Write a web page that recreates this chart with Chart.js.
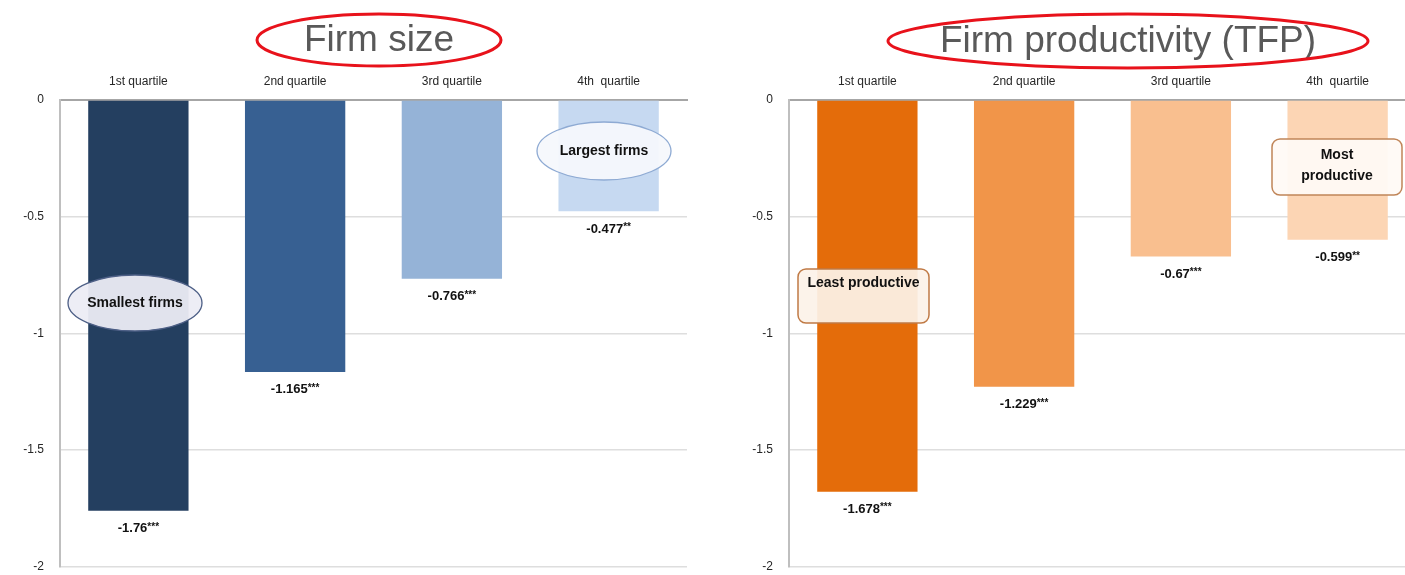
<!DOCTYPE html>
<html>
<head>
<meta charset="utf-8">
<script src="https://cdn.jsdelivr.net/npm/chart.js@4.4.1/dist/chart.umd.min.js"></script>
<style>
  html, body { margin: 0; padding: 0; width: 1405px; height: 575px; overflow: hidden; background: #fff; }
  .panel { position: absolute; top: 0; height: 575px; overflow: hidden; }
  #left { left: 0; width: 700px; }
  #right { left: 700px; width: 720px; }
</style>
</head>
<body>
<div class="panel" id="left"><canvas id="sizeChart" width="700" height="590"></canvas></div>
<div class="panel" id="right"><canvas id="tfpChart" width="720" height="590"></canvas></div>
<script>
// Quartile categories shared by both panels
const quartiles = ['1st quartile', '2nd quartile', '3rd quartile', '4th  quartile'];

// Firm size panel
const sizeTitle = 'Firm size';
const sizeValues = [-1.76, -1.165, -0.766, -0.477];
const sizeStars = ['***', '***', '***', '**'];
const sizeColors = ['#243f60', '#376092', '#95b3d7', '#c6d9f1'];

// Firm productivity panel
const tfpTitle = 'Firm productivity (TFP)';
const tfpValues = [-1.678, -1.229, -0.67, -0.599];
const tfpStars = ['***', '***', '***', '**'];
const tfpColors = ['#e46c0a', '#f19549', '#f9bf8f', '#fcd5b4'];

// Y axis ticks
const yTicks = [0, -0.5, -1, -1.5, -2];

const FONT = '"Liberation Sans", Arial, sans-serif';

function drawValueLabels(chart, values, stars) {
  const ctx = chart.ctx;
  const meta = chart.getDatasetMeta(0);
  ctx.save();
  meta.data.forEach((bar, i) => {
    const num = String(values[i]);
    const st = stars[i];
    ctx.font = 'bold 13px ' + FONT;
    const wNum = ctx.measureText(num).width;
    ctx.font = 'bold 10px ' + FONT;
    const wSt = ctx.measureText(st).width;
    const x0 = bar.x - (wNum + wSt) / 2;
    const y = bar.y + 18;
    ctx.fillStyle = '#111';
    ctx.textBaseline = 'middle';
    ctx.textAlign = 'left';
    ctx.font = 'bold 13px ' + FONT;
    ctx.fillText(num, x0, y);
    ctx.font = 'bold 10px ' + FONT;
    ctx.fillText(st, x0 + wNum, y - 2);
  });
  ctx.restore();
}

function drawTitle(ctx, text, cx, cy, rx, ry) {
  ctx.save();
  ctx.font = '37px ' + FONT;
  ctx.fillStyle = '#595959';
  ctx.textAlign = 'center';
  ctx.textBaseline = 'middle';
  ctx.fillText(text, cx, cy + 1);
  ctx.beginPath();
  ctx.ellipse(cx, cy, rx, ry, 0, 0, Math.PI * 2);
  ctx.strokeStyle = '#e8121b';
  ctx.lineWidth = 3;
  ctx.stroke();
  ctx.restore();
}

function ellipseNote(ctx, text, cx, cy, rx, ry, fill, stroke) {
  ctx.save();
  ctx.beginPath();
  ctx.ellipse(cx, cy, rx, ry, 0, 0, Math.PI * 2);
  ctx.fillStyle = fill;
  ctx.fill();
  ctx.strokeStyle = stroke;
  ctx.lineWidth = 1.3;
  ctx.stroke();
  ctx.font = 'bold 14px ' + FONT;
  ctx.fillStyle = '#111';
  ctx.textAlign = 'center';
  ctx.textBaseline = 'middle';
  ctx.fillText(text, cx, cy);
  ctx.restore();
}

function boxNote(ctx, lines, x, y, w, h, textY, fill, stroke) {
  ctx.save();
  ctx.beginPath();
  ctx.roundRect(x, y, w, h, 8);
  ctx.fillStyle = fill;
  ctx.fill();
  ctx.strokeStyle = stroke;
  ctx.lineWidth = 1.5;
  ctx.stroke();
  ctx.font = 'bold 14px ' + FONT;
  ctx.fillStyle = '#111';
  ctx.textAlign = 'center';
  ctx.textBaseline = 'middle';
  lines.forEach((ln, i) => ctx.fillText(ln, x + w / 2, textY + i * 21));
  ctx.restore();
}

function makeChart(id, values, colors, stars, yAxisWidth, rightPad, decorate) {
  return new Chart(document.getElementById(id), {
    type: 'bar',
    data: {
      labels: quartiles,
      datasets: [{
        data: values,
        backgroundColor: colors,
        borderWidth: 0,
        barPercentage: 0.64,
        categoryPercentage: 1
      }]
    },
    options: {
      responsive: false,
      animation: false,
      events: [],
      layout: { padding: { top: 0, left: 0, right: rightPad, bottom: 8 } },
      plugins: { legend: { display: false }, tooltip: { enabled: false }, title: { display: false } },
      scales: {
        x: {
          position: 'top',
          grid: { display: false },
          border: { color: '#a6a6a6', width: 2 },
          ticks: { color: '#262626', font: { family: FONT, size: 12 }, padding: 3, maxRotation: 0 },
          afterFit: s => { s.height = 100; }
        },
        y: {
          min: -2, max: 0,
          afterBuildTicks: s => { s.ticks = yTicks.map(v => ({ value: v })); },
          grid: { color: '#dedede', lineWidth: 1.5, drawTicks: false },
          border: { color: '#bfbfbf', width: 2 },
          ticks: {
            color: '#262626',
            font: { family: FONT, size: 12 },
            padding: 16,
            callback: v => String(v)
          },
          afterFit: s => { s.width = yAxisWidth; }
        }
      }
    },
    plugins: [{
      id: 'decor',
      afterDatasetsDraw(chart) {
        drawValueLabels(chart, values, stars);
        decorate(chart.ctx);
      }
    }]
  });
}

makeChart('sizeChart', sizeValues, sizeColors, sizeStars, 60, 13, ctx => {
  drawTitle(ctx, sizeTitle, 379, 40, 122, 26);
  ellipseNote(ctx, 'Smallest firms', 135, 303, 67, 28, 'rgba(236,236,244,0.95)', '#4d5f86');
  ellipseNote(ctx, 'Largest firms', 604, 151, 67, 29, 'rgba(246,248,252,0.95)', '#8eaad3');
});

makeChart('tfpChart', tfpValues, tfpColors, tfpStars, 89, 4, ctx => {
  drawTitle(ctx, tfpTitle, 428, 41, 240, 27);
  boxNote(ctx, ['Least productive'], 98, 269, 131, 54, 283, 'rgba(252,242,232,0.93)', '#c07a45');
  boxNote(ctx, ['Most', 'productive'], 572, 139, 130, 56, 155, 'rgba(255,250,246,0.95)', '#c08558');
});
</script>
</body>
</html>
